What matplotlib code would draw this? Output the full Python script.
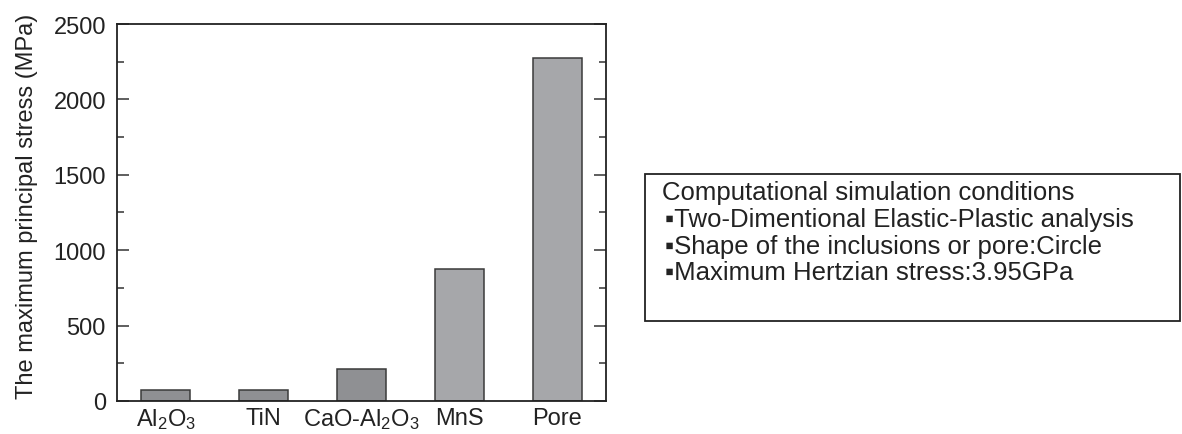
import matplotlib
matplotlib.use("Agg")
import matplotlib.pyplot as plt
from matplotlib.patches import Rectangle
from matplotlib.ticker import MultipleLocator

plt.rcParams["font.family"] = ["Liberation Sans", "DejaVu Sans"]
plt.rcParams["mathtext.fontset"] = "custom"
plt.rcParams["mathtext.rm"] = "Liberation Sans"
plt.rcParams["mathtext.it"] = "Liberation Sans"

categories = [r"Al$_2$O$_3$", "TiN", r"CaO-Al$_2$O$_3$", "MnS", "Pore"]
stress = [75, 75, 215, 873, 2277]
bar_colors = ["#8f9093", "#8f9093", "#8f9093", "#a6a7aa", "#a6a7aa"]

box_title = "Computational simulation conditions"
box_items = [
    "Two-Dimentional Elastic-Plastic analysis",
    "Shape of the inclusions or pore:Circle",
    "Maximum Hertzian stress:3.95GPa",
]

fig = plt.figure(figsize=(11.82, 4.35), dpi=100)
ax = fig.add_axes([0.099, 0.0759, 0.4137, 0.8666])

x = range(len(categories))
ax.bar(x, stress, width=0.5, color=bar_colors, edgecolor="#3a3a3a", linewidth=1.1)

ax.set_xlim(-0.5, 4.5)
ax.set_ylim(0, 2500)
ax.set_xticks(list(x))
ax.set_xticklabels(categories)
ax.yaxis.set_major_locator(MultipleLocator(500))
ax.yaxis.set_minor_locator(MultipleLocator(250))
ax.tick_params(axis="y", which="both", direction="in", left=True, right=True,
               labelsize=17, labelcolor="#222222", color="#333333", pad=8)
ax.tick_params(axis="y", which="major", length=8.6, width=1.1)
ax.tick_params(axis="y", which="minor", length=5, width=1.1)
ax.tick_params(axis="x", length=0, labelsize=17, labelcolor="#222222", pad=4)
for s in ax.spines.values():
    s.set_linewidth(1.3)
    s.set_color("#222222")
ax.set_ylabel("The maximum principal stress (MPa)", fontsize=17, color="#222222", labelpad=11)
ax.yaxis.label.set_y(0.52)

# condition box
fig.patches.append(Rectangle((0.5457, 0.2598), 0.4526, 0.3379, transform=fig.transFigure,
                             fill=False, edgecolor="#222222", linewidth=1.3))
fig.text(0.560, 0.5563, box_title, fontsize=18.5, color="#222222", va="center")
for i, item in enumerate(box_items):
    fig.text(0.5625, 0.4943 - i * 0.061, "\u25aa" + item, fontsize=18.5,
             color="#222222", va="center")

fig.savefig("out.png", dpi=100)
